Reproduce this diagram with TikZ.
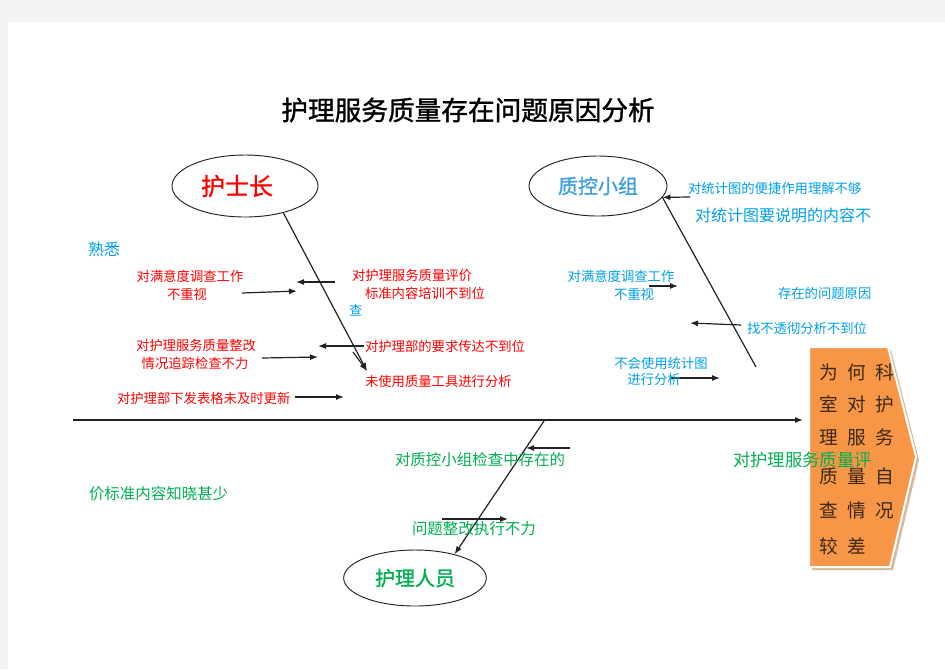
\documentclass[tikz,border=0pt]{standalone}
\usepackage{fontspec}
\setmainfont{Noto Sans CJK SC}
\newfontfamily\heavyfont{Noto Sans CJK SC}[FakeBold=1.2]
\usetikzlibrary{arrows.meta,shapes.geometric}
\definecolor{cred}{HTML}{FF0000}
\definecolor{cblue}{HTML}{00A0E9}
\definecolor{cblueb}{HTML}{3FA0E0}
\definecolor{cgreen}{HTML}{00B050}
\definecolor{corange}{HTML}{F79646}
\definecolor{cbg}{HTML}{F3F3F3}
\definecolor{ctext}{HTML}{3A2A1A}
\definecolor{cshadow}{HTML}{D8B89A}
\definecolor{cline}{HTML}{222222}
\newcommand{\cbx}[1]{\makebox[21pt][c]{#1}}
\begin{document}
\begin{tikzpicture}[x=0.75pt,y=-0.75pt,
  lbl/.style={inner sep=0pt,outer sep=0pt},
  redt/.style={lbl,text=cred,font=\fontsize{10}{12}\selectfont},
  bluet/.style={lbl,text=cblue,font=\fontsize{10}{12}\selectfont},
  bluebig/.style={lbl,text=cblue,font=\fontsize{12}{14}\selectfont},
  greent/.style={lbl,text=cgreen,font=\fontsize{11.6}{14}\selectfont},
  oranget/.style={lbl,text=ctext,font=\fontsize{14}{16}\selectfont},
  arr/.style={draw=cline,-{Latex[length=6pt,width=4.5pt]},line width=0.9pt},
  bone/.style={draw=cline,line width=0.9pt},
  oval/.style={draw=cline,ellipse,line width=0.7pt,inner sep=0pt}]
\useasboundingbox (0,0) rectangle (945,669);
\fill[cbg] (0,0) rectangle (945,669);
\fill[white] (8,22) rectangle (945,669);

% title
\node[lbl,font=\heavyfont\fontsize{20}{24}\selectfont] (title) at (468,110) {护理服务质量存在问题原因分析};

% ellipses
\node[oval,minimum width=109.5pt,minimum height=46.5pt,text=cred,font=\heavyfont\fontsize{18}{20}\selectfont] (e1) at (245,186) {护士长\hspace*{12pt}};
\node[oval,minimum width=103.5pt,minimum height=45pt,text=cblueb,font=\heavyfont\fontsize{15}{18}\selectfont] (e2) at (598,186) {质控小组};
\node[oval,minimum width=107pt,minimum height=42pt,text=cgreen,font=\heavyfont\fontsize{15}{18}\selectfont] (e3) at (415,578) {护理人员};

% spine
\coordinate (sps) at (73,420);
\coordinate (spe) at (803,420);
\draw[arr] (sps) -- (spe);

% effect shape
\fill[cshadow] (812,350) -- (891,350) -- (919,460) -- (893,570) -- (812,570) -- cycle;
\filldraw[fill=corange,draw=white,line width=1.5pt] (809,347) -- (888,347) -- (916,457) -- (890,567) -- (809,567) -- cycle;
\node[oranget] (o1) at (857,372) {\cbx{为}\cbx{何}\cbx{科}};
\node[oranget] (o2) at (857,404) {\cbx{室}\cbx{对}\cbx{护}};
\node[oranget] (o3) at (857,437) {\cbx{理}\cbx{服}\cbx{务}};
\node[oranget] (o4) at (857,476) {\cbx{质}\cbx{量}\cbx{自}};
\node[oranget] (o5) at (857,510) {\cbx{查}\cbx{情}\cbx{况}};
\node[oranget] (o6) at (857,546) {\cbx{较}\cbx{差}\cbx{}};

% bone 1 (护士长)
\coordinate (b1e) at (367,371);
\coordinate (b1c) at (353,352);
\draw[bone,-{Latex[length=6pt,width=4.5pt]}] (e1.-35) -- (b1e);
\draw[arr] (b1c) -- (b1e);
\coordinate (a1s) at (335,282); \coordinate (a1e) at (296,282);
\coordinate (a2s) at (242,293); \coordinate (a2e) at (297,291);
\coordinate (a3s) at (364,346); \coordinate (a3e) at (318,346);
\coordinate (a4s) at (262,358); \coordinate (a4e) at (318,357);
\coordinate (a5s) at (295,397); \coordinate (a5e) at (344,397);
\draw[arr] (a1s) -- (a1e);
\draw[arr] (a2s) -- (a2e);
\draw[arr] (a3s) -- (a3e);
\draw[arr] (a4s) -- (a4e);
\draw[arr] (a5s) -- (a5e);

% bone 2 (质控小组)
\coordinate (b2e) at (756,367);
\draw[bone] (e2.-10) -- (b2e);
\coordinate (c1s) at (690,197);
\draw[arr] (c1s) -- (e2.-10);
\coordinate (c2s) at (649,286); \coordinate (c2e) at (678,286);
\coordinate (c3s) at (741,325); \coordinate (c3e) at (690,323);
\coordinate (c4s) at (670,378); \coordinate (c4e) at (720,378);
\draw[arr] (c2s) -- (c2e);
\draw[arr] (c3s) -- (c3e);
\draw[arr] (c4s) -- (c4e);

% bone 3 (护理人员)
\coordinate (b3s) at (544,421);
\draw[arr] (b3s) -- (e3.31);
\coordinate (d1s) at (570,448); \coordinate (d1e) at (526,448);
\coordinate (d2s) at (442,519); \coordinate (d2e) at (508,519);
\draw[arr] (d1s) -- (d1e);
\draw[arr] (d2s) -- (d2e);

% red labels
\node[redt] (r1) at (190,276) {对满意度调查工作};
\node[redt] (r2) at (187,294) {不重视};
\node[redt,anchor=west] (r3) at (352,275) {对护理服务质量评价};
\node[redt,anchor=west] (r4) at (365,293) {标准内容培训不到位};
\node[redt,anchor=west] (r5) at (365,346) {对护理部的要求传达不到位};
\node[redt,anchor=west] (r6) at (365,381) {未使用质量工具进行分析};
\node[redt,anchor=west] (r7) at (117,398) {对护理部下发表格未及时更新};
\node[redt] (r8) at (196,345) {对护理服务质量整改};
\node[redt] (r9) at (195,363) {情况追踪检查不力};

% blue labels
\node[bluebig,anchor=west] (s1) at (88,249) {熟悉};
\node[bluet,anchor=west] (s2) at (349,310) {查};
\node[bluet,anchor=west] (s3) at (688,188) {对统计图的便捷作用理解不够};
\node[bluebig,anchor=west] (s4) at (695,215) {对统计图要说明的内容不};
\node[bluet,anchor=west] (s5) at (778,293) {存在的问题原因};
\node[bluet,anchor=west] (s6) at (747,328) {找不透彻分析不到位};
\node[bluet] (s7) at (621,276) {对满意度调查工作};
\node[bluet] (s8) at (634,294) {不重视};
\node[bluet] (s9) at (661,363) {不会使用统计图};
\node[bluet] (s10) at (654,379) {进行分析};

% green labels
\node[greent,anchor=west] (g1) at (395,460) {对质控小组检查中存在的};
\node[greent,anchor=west,font=\fontsize{13}{15}\selectfont] (g2) at (733,460) {对护理服务质量评};
\node[greent,anchor=west] (g3) at (89,494) {价标准内容知晓甚少};
\node[greent,anchor=west] (g4) at (412,529) {问题整改执行不力};
\end{tikzpicture}
\end{document}
